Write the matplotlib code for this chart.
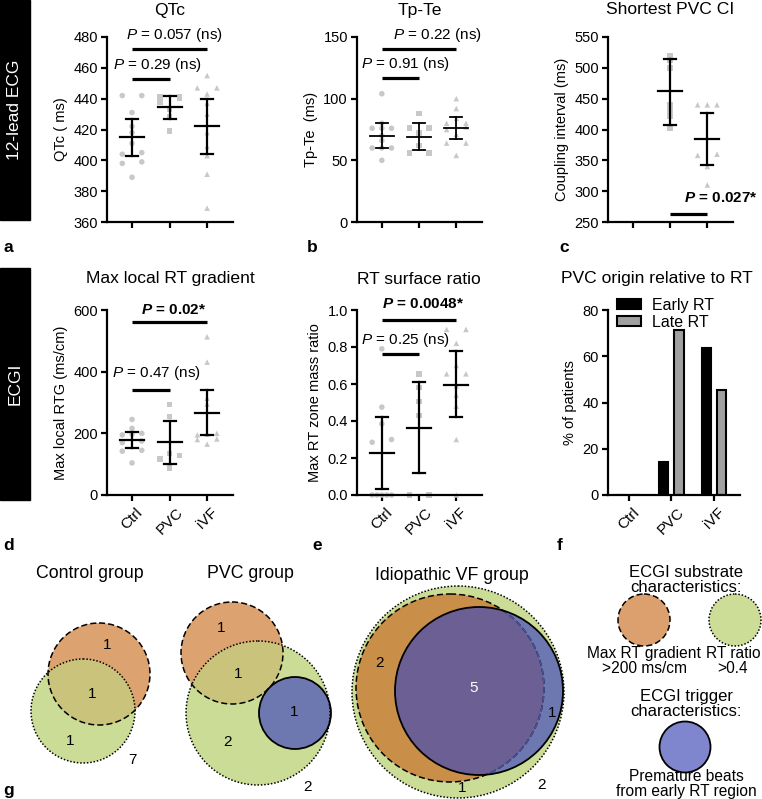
import numpy as np
import matplotlib
matplotlib.use("Agg")
import matplotlib.pyplot as plt
from matplotlib.patches import Circle, Rectangle

plt.rcParams['font.family'] = ['Liberation Sans', 'DejaVu Sans']
plt.rcParams['mathtext.fontset'] = 'custom'
plt.rcParams['mathtext.rm'] = 'Liberation Sans'
plt.rcParams['mathtext.it'] = 'Liberation Sans:italic'
plt.rcParams['mathtext.bf'] = 'Liberation Sans:bold'
try:
    plt.rcParams['mathtext.bfit'] = 'Liberation Sans:italic:bold'
except KeyError:
    pass

groups = ['Ctrl', 'PVC', 'iVF']
markers = ['o', 's', '^']

# --- 12-lead ECG ---
qtc = [[442, 442, 431, 422, 418, 411, 404, 405, 399, 398, 389],
       [441, 440, 441, 438, 433, 428, 419],
       [455, 447, 447, 443, 437, 430, 418, 409, 403, 391, 369]]
qtc_mean = [415, 434.5, 422]
qtc_lo = [403, 426.5, 404]
qtc_hi = [427, 442, 440]

tpte = [[104, 80, 76, 76, 76, 70, 66, 60, 60, 60, 50],
        [88, 76, 76, 72, 62, 56, 56],
        [100, 92, 84, 80, 80, 77, 75, 71, 64, 64, 54]]
tpte_mean = [70, 69.3, 76]
tpte_lo = [60, 58, 67]
tpte_hi = [80, 80.5, 85.3]

ci = [[],
      [520, 512, 500, 440, 432, 422, 402],
      [440, 440, 440, 360, 358, 340, 310]]
ci_mean = [np.nan, 462, 385]
ci_lo = [np.nan, 408, 343]
ci_hi = [np.nan, 515, 427]

# --- ECGI ---
rtg = [[245, 216, 200, 197, 195, 175, 170, 145, 142, 104],
       [293, 255, 135, 128, 117, 88],
       [513, 431, 314, 295, 200, 197, 195, 182, 180, 165]]
rtg_mean = [179, 171, 266]
rtg_lo = [152, 99, 195]
rtg_hi = [205, 241, 341]

rtr = [[0.79, 0.475, 0.385, 0.30, 0.285, 0, 0, 0, 0, 0],
       [0.655, 0.58, 0.505, 0.43, 0, 0],
       [0.895, 0.895, 0.82, 0.70, 0.655, 0.655, 0.59, 0.54, 0.48, 0.30, 0.0]]
rtr_mean = [0.226, 0.364, 0.596]
rtr_lo = [0.03, 0.119, 0.421]
rtr_hi = [0.421, 0.61, 0.778]

early_rt = [0, 14.3, 63.6]
late_rt = [0, 71.4, 45.5]

# venn counts
ctrl_counts = [1, 1, 1, 7]
pvc_counts = [1, 1, 1, 2, 2]
ivf_counts = [2, 5, 1, 1, 2]

W, H = 762, 799
fig = plt.figure(figsize=(W / 100, H / 100), dpi=100)


def axes_px(left, top, width, height):
    return fig.add_axes([left / W, 1 - (top + height) / H, width / W, height / H])


def swarm_x(vals, i, tol):
    vals = np.asarray(vals, float)
    order = np.argsort(vals)
    xs = np.full(len(vals), float(i))
    k = 0
    while k < len(order):
        j = k
        while j + 1 < len(order) and vals[order[j + 1]] - vals[order[k]] <= tol:
            j += 1
        n = j - k + 1
        if n > 1:
            xs[order[k:j + 1]] = i + np.linspace(-0.26, 0.26, n)
        k = j + 1
    return xs


def style(ax, ylim, yticks, xlim=(-0.667, 2.69)):
    ax.set_xlim(xlim); ax.set_ylim(ylim); ax.set_yticks(yticks)
    ax.set_xticks([0, 1, 2])
    for s in ['top', 'right']:
        ax.spines[s].set_visible(False)
    for s in ['left', 'bottom']:
        ax.spines[s].set_linewidth(1.6)
    ax.tick_params(width=1.6, length=4.5, labelsize=10.5, pad=2)
    ax.patch.set_alpha(0)


def group_labels(ax):
    ax.set_xticklabels(groups, rotation=45, ha='center', va='top', fontsize=11)
    ax.tick_params(axis='x', pad=3)


def dots(ax, data, mean, lo, hi, ylim, lw=1.6):
    tol = (ylim[1] - ylim[0]) * 4.5 / 185
    for i, (vals, m) in enumerate(zip(data, markers)):
        if len(vals) == 0:
            continue
        ax.scatter(swarm_x(vals, i, tol), vals, marker=m, s=16, color='#c8c8c8',
                   edgecolor='none', zorder=2, clip_on=False)
    for i in range(3):
        if np.isnan(mean[i]):
            continue
        ax.plot([i - 0.32, i + 0.32], [mean[i]] * 2, color='k', lw=lw, zorder=3)
        ax.plot([i, i], [lo[i], hi[i]], color='k', lw=lw, zorder=3)
        for v in (lo[i], hi[i]):
            ax.plot([i - 0.16, i + 0.16], [v, v], color='k', lw=lw, zorder=3)


def pbar(ax, x0, x1, ybar, xt, yt, label, bold=False):
    ax.plot([x0, x1], [ybar, ybar], color='k', lw=2.3, clip_on=False,
            solid_capstyle='butt')
    ax.text(xt, yt, label, ha='center', va='center', fontsize=11,
            fontweight='bold' if bold else 'normal', clip_on=False)


ns = r'$\it{P}$ = %s (ns)'
sig = r'$\mathbfit{P}$ = %s*'

# panel a
ax = axes_px(107, 37, 126, 185)
style(ax, (360, 480), range(360, 481, 20))
dots(ax, qtc, qtc_mean, qtc_lo, qtc_hi, (360, 480))
ax.set_xticklabels([])
ax.set_ylabel('QTc ( ms)', fontsize=10.5)
pbar(ax, 0, 1, 453, 0.67, 462, ns % '0.29')
pbar(ax, 0, 2, 472, 1.12, 481, ns % '0.057')

# panel b
ax = axes_px(357, 37, 125, 185)
style(ax, (0, 150), [0, 50, 100, 150])
dots(ax, tpte, tpte_mean, tpte_lo, tpte_hi, (0, 150), lw=1.3)
ax.set_xticklabels([])
ax.set_ylabel('Tp-Te  (ms)', fontsize=10.5)
pbar(ax, 0, 1, 116.8, 0.64, 128, ns % '0.91')
pbar(ax, 0, 2, 139.9, 1.49, 151.3, ns % '0.22')

# panel c
ax = axes_px(608, 37, 125, 185)
style(ax, (250, 550), range(250, 551, 50))
dots(ax, ci, ci_mean, ci_lo, ci_hi, (250, 550))
ax.set_xticklabels([])
ax.set_ylabel('Coupling interval (ms)', fontsize=10.5)
pbar(ax, 1, 2, 262.5, 2.37, 289, sig % '0.027', bold=True)

# panel d
ax = axes_px(107, 310, 126, 185)
style(ax, (0, 600), [0, 200, 400, 600])
dots(ax, rtg, rtg_mean, rtg_lo, rtg_hi, (0, 600))
group_labels(ax)
ax.set_ylabel('Max local RTG (ms/cm)', fontsize=10.5)
pbar(ax, 0, 1, 340, 0.66, 395, ns % '0.47')
pbar(ax, 0, 2, 562, 1.1, 600, sig % '0.02', bold=True)

# panel e
ax = axes_px(357, 310, 125, 185)
style(ax, (0, 1.0), [0, 0.2, 0.4, 0.6, 0.8, 1.0])
ax.set_yticklabels(['0.0', '0.2', '0.4', '0.6', '0.8', '1.0'])
dots(ax, rtr, rtr_mean, rtr_lo, rtr_hi, (0, 1.0))
group_labels(ax)
ax.set_ylabel('Max RT zone mass ratio', fontsize=10.5)
pbar(ax, 0, 1, 0.764, 0.64, 0.836, ns % '0.25')
pbar(ax, 0, 2, 0.946, 1.12, 1.03, sig % '0.0048', bold=True)

# panel f
ax = axes_px(608, 310, 132, 185)
style(ax, (0, 80), [0, 20, 40, 60, 80], xlim=(-0.49, 2.61))
xc = np.arange(3)
ax.bar(xc - 0.18, early_rt, width=0.22, color='k', edgecolor='k', lw=1.5,
       label='Early RT', zorder=2)
ax.bar(xc + 0.18, late_rt, width=0.22, color='#a0a0a0', edgecolor='k', lw=1.5,
       label='Late RT', zorder=2)
group_labels(ax)
ax.set_ylabel('% of patients', fontsize=10.5)
ax.legend(loc='upper left', bbox_to_anchor=(0.02, 1.10), frameon=False,
          fontsize=11.5, handlelength=1.5, handleheight=0.6,
          labelspacing=0.12, handletextpad=0.7, borderaxespad=0)

# titles
for x, y, t in [(170, 10, 'QTc'), (420, 10, 'Tp-Te'), (670, 10, 'Shortest PVC CI'),
                (170, 279, 'Max local RT gradient'), (419, 279, 'RT surface ratio'),
                (657, 279, 'PVC origin relative to RT')]:
    fig.text(x / W, 1 - y / H, t, ha='center', va='center', fontsize=12.6)

# overlay in pixel coordinates
axv = fig.add_axes([0, 0, 1, 1])
axv.set_xlim(0, W); axv.set_ylim(H, 0)
axv.axis('off')
axv.patch.set_alpha(0)

axv.add_patch(Rectangle((0, 0), 30, 220, color='k'))
axv.add_patch(Rectangle((0, 268), 30, 232, color='k'))
axv.text(15, 110, '12-lead ECG', rotation=90, color='w', ha='center', va='center', fontsize=12.5)
axv.text(15, 384, 'ECGI', rotation=90, color='w', ha='center', va='center', fontsize=12.5)

for x, y, t in [(3, 247, 'a'), (307, 247, 'b'), (559, 247, 'c'),
                (3, 545, 'd'), (312, 545, 'e'), (557, 545, 'f'), (3, 790, 'g')]:
    axv.text(x, y, t, ha='left', va='center', fontsize=12.5, fontweight='bold')

ORANGE = '#dca26f'
GREEN = '#cbdc97'
OLIVE = '#c9c37b'
BLUE = '#6d78b0'
DASH = (0, (4, 2))
DOT = (0, (1, 1.2))


def fill(xy, r, fc, clip=None):
    p = Circle(xy, r, facecolor=fc, edgecolor='none')
    axv.add_patch(p)
    if clip is not None:
        p.set_clip_path(clip)
    return p


def edge(xy, r, ls, color='k', lw=1.1, clip=None):
    p = Circle(xy, r, fill=False, edgecolor=color, linestyle=ls, lw=lw)
    axv.add_patch(p)
    if clip is not None:
        p.set_clip_path(clip)
    return p


def num(x, y, v, color='k'):
    axv.text(x, y, str(v), ha='center', va='center', fontsize=11, color=color)


# Control group
axv.text(90, 573, 'Control group', ha='center', va='center', fontsize=12.8)
g = fill((83, 711), 52, GREEN)
o = fill((99, 674), 51, ORANGE)
fill((83, 711), 52, OLIVE, clip=o)
edge((99, 674), 51, DASH)
edge((83, 711), 52, DOT)
for (x, y), v in zip([(107, 645), (92, 694), (70, 741), (132, 760)], ctrl_counts):
    num(x, y, v)

# PVC group
axv.text(250, 573, 'PVC group', ha='center', va='center', fontsize=12.8)
g = fill((258, 713), 72, GREEN)
o = fill((232, 653), 51, ORANGE)
fill((258, 713), 72, OLIVE, clip=o)
fill((295, 713), 36, BLUE)
edge((232, 653), 51, DASH)
edge((258, 713), 72, DOT)
edge((295, 713), 36, '-', lw=1.3)
for (x, y), v in zip([(221, 628), (238, 674), (294, 712), (227, 742), (308, 787)], pvc_counts):
    num(x, y, v)

# Idiopathic VF group
axv.text(452, 575, 'Idiopathic VF group', ha='center', va='center', fontsize=12.8)
fill((458, 692), 106, GREEN)
o = fill((450, 688), 94, '#c98e48')
b = fill((479, 691), 84, BLUE)
fill((450, 688), 94, '#6c5f93', clip=b)
edge((458, 692), 106, DOT)
edge((450, 688), 94, DASH)
edge((450, 688), 94, DASH, color='#4a55a0', clip=b)
edge((479, 691), 84, '-', lw=1.3)
for (x, y), v, c in zip([(380, 663), (474, 688), (552, 713), (462, 788), (542, 785)],
                        ivf_counts, ['k', 'w', 'k', 'k', 'k']):
    num(x, y, v, c)

# legend for venn
axv.text(686, 580, 'ECGI substrate\ncharacteristics:', ha='center', va='center',
         fontsize=12, linespacing=0.95)
fill((644, 620), 26, '#dba06d')
edge((644, 620), 26, DASH)
fill((735, 620), 26, '#ccdd98')
edge((735, 620), 26, DOT)
axv.text(644, 661, 'Max RT gradient\n>200 ms/cm', ha='center', va='center',
         fontsize=11.2, linespacing=0.95)
axv.text(733, 661, 'RT ratio\n>0.4', ha='center', va='center',
         fontsize=11.2, linespacing=0.95)
axv.text(686, 704, 'ECGI trigger\ncharacteristics:', ha='center', va='center',
         fontsize=12, linespacing=0.95)
fill((685, 747), 25.5, '#8086cd')
edge((685, 747), 25.5, '-', lw=1.3)
axv.text(686, 784, 'Premature beats\nfrom early RT region', ha='center', va='center',
         fontsize=11.2, linespacing=0.95)

fig.savefig('out.png', dpi=100)
